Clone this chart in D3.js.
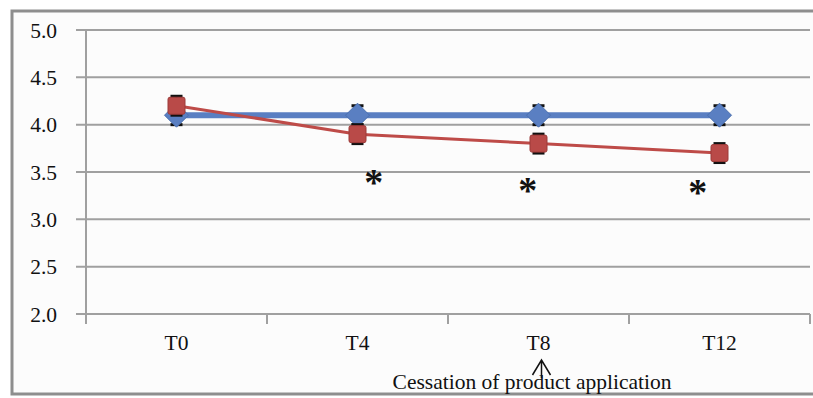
<!DOCTYPE html>
<html>
<head>
<meta charset="utf-8">
<script src="https://cdn.jsdelivr.net/npm/d3@7"></script>
<style>
  html, body { margin: 0; padding: 0; background: #ffffff; }
  svg { display: block; font-family: "Liberation Serif", "Times New Roman", serif; }
</style>
</head>
<body>
<div id="chart"></div>
<script>
// chart data
const categories = ["T0", "T4", "T8", "T12"];
const blueValues = [4.1, 4.1, 4.1, 4.1];
const blueErrors = [0.1, 0.1, 0.1, 0.1];
const redValues = [4.2, 3.9, 3.8, 3.7];
const redErrors = [0.1, 0.1, 0.1, 0.1];
const yTicks = [2.0, 2.5, 3.0, 3.5, 4.0, 4.5, 5.0];
// significance marks: category, value level, offset within band
const stars = [
  { cat: "T4", value: 3.44, shift: 0.09 },
  { cat: "T8", value: 3.35, shift: -0.06 },
  { cat: "T12", value: 3.33, shift: -0.12 }
];
const note = { cat: "T8", text: "Cessation of product application" };

const width = 813, height = 398;
const plotLeft = 86, plotRight = 810, plotTop = 30, plotBottom = 314;

const svg = d3.select("#chart").append("svg")
  .attr("width", width)
  .attr("height", height);

// outer frame
svg.append("rect")
  .attr("x", 12).attr("y", 11)
  .attr("width", 820).attr("height", 383)
  .attr("fill", "#fcfcfc")
  .attr("stroke", "#8e8e8e")
  .attr("stroke-width", 3);

const x = d3.scaleBand().domain(categories).range([plotLeft, plotRight]);
const y = d3.scaleLinear().domain([2, 5]).range([plotBottom, plotTop]);

// gridlines + y ticks
svg.append("g")
  .selectAll("line")
  .data(yTicks)
  .join("line")
  .attr("x1", plotLeft - 10).attr("x2", plotRight)
  .attr("y1", d => y(d)).attr("y2", d => y(d))
  .attr("stroke", "#a0a0a0")
  .attr("stroke-width", 2);

svg.append("g")
  .selectAll("text")
  .data(yTicks)
  .join("text")
  .attr("x", 57)
  .attr("y", d => y(d))
  .attr("dy", "0.35em")
  .attr("text-anchor", "end")
  .attr("font-size", 21.5)
  .attr("fill", "#111")
  .text(d => d.toFixed(1));

// y axis line
svg.append("line")
  .attr("x1", plotLeft).attr("x2", plotLeft)
  .attr("y1", plotTop).attr("y2", plotBottom + 10)
  .attr("stroke", "#a0a0a0").attr("stroke-width", 2);

// x ticks between categories
const xTickPos = categories.map(c => x(c) + x.bandwidth());
svg.append("g")
  .selectAll("line")
  .data(xTickPos)
  .join("line")
  .attr("x1", d => d).attr("x2", d => d)
  .attr("y1", plotBottom).attr("y2", plotBottom + 10)
  .attr("stroke", "#a0a0a0").attr("stroke-width", 2);

svg.append("g")
  .selectAll("text")
  .data(categories)
  .join("text")
  .attr("x", d => x(d) + x.bandwidth() / 2)
  .attr("y", 350)
  .attr("text-anchor", "middle")
  .attr("font-size", 21.5)
  .attr("fill", "#111")
  .text(d => d);

const cx = c => x(c) + x.bandwidth() / 2;

function drawSeries(values, errors, color, lineWidth) {
  const pts = categories.map((c, i) => ({ c, v: values[i], e: errors[i] }));
  const g = svg.append("g");
  // error bars
  const eb = g.selectAll("g.err").data(pts).join("g");
  eb.append("line")
    .attr("x1", d => cx(d.c)).attr("x2", d => cx(d.c))
    .attr("y1", d => y(d.v + d.e)).attr("y2", d => y(d.v - d.e))
    .attr("stroke", "#111").attr("stroke-width", 2);
  [1, -1].forEach(s => {
    eb.append("line")
      .attr("x1", d => cx(d.c) - 6).attr("x2", d => cx(d.c) + 6)
      .attr("y1", d => y(d.v + s * d.e)).attr("y2", d => y(d.v + s * d.e))
      .attr("stroke", "#111").attr("stroke-width", 3);
  });
  g.append("path")
    .datum(pts)
    .attr("fill", "none")
    .attr("stroke", color)
    .attr("stroke-width", lineWidth)
    .attr("d", d3.line().x(d => cx(d.c)).y(d => y(d.v)));
  return { g, pts };
}

// blue series with diamonds
const blue = drawSeries(blueValues, blueErrors, "#5a7fc2", 6);
blue.g.selectAll("path.mk")
  .data(blue.pts)
  .join("path")
  .attr("transform", d => `translate(${cx(d.c)},${y(d.v)})`)
  .attr("d", "M0,-12L12,0L0,12L-12,0Z")
  .attr("fill", "#5a7fc2")
  .attr("stroke", "#4a6fae")
  .attr("stroke-width", 1);

// red series with squares
const red = drawSeries(redValues, redErrors, "#be4b48", 3);
red.g.selectAll("rect.mk")
  .data(red.pts)
  .join("rect")
  .attr("x", d => cx(d.c) - 8.5)
  .attr("y", d => y(d.v) - 8.5)
  .attr("width", 17).attr("height", 17)
  .attr("rx", 2)
  .attr("fill", "#b94a48")
  .attr("stroke", "#9c3a38")
  .attr("stroke-width", 1);

// asterisks
svg.append("g")
  .selectAll("text")
  .data(stars)
  .join("text")
  .attr("x", d => cx(d.cat) + d.shift * x.bandwidth())
  .attr("y", d => y(d.value))
  .attr("dy", "0.45em")
  .attr("text-anchor", "middle")
  .attr("font-size", 38)
  .attr("font-weight", "bold")
  .attr("fill", "#111")
  .text("*");

// arrow + note
const ax = cx(note.cat) + 3;
svg.append("path")
  .attr("d", `M${ax},378L${ax},360M${ax - 9},375L${ax},360L${ax + 9},375`)
  .attr("fill", "none")
  .attr("stroke", "#111")
  .attr("stroke-width", 1.5);

svg.append("text")
  .attr("x", 532)
  .attr("y", 389)
  .attr("text-anchor", "middle")
  .attr("font-size", 21.5)
  .attr("fill", "#111")
  .text(note.text);
</script>
</body>
</html>
